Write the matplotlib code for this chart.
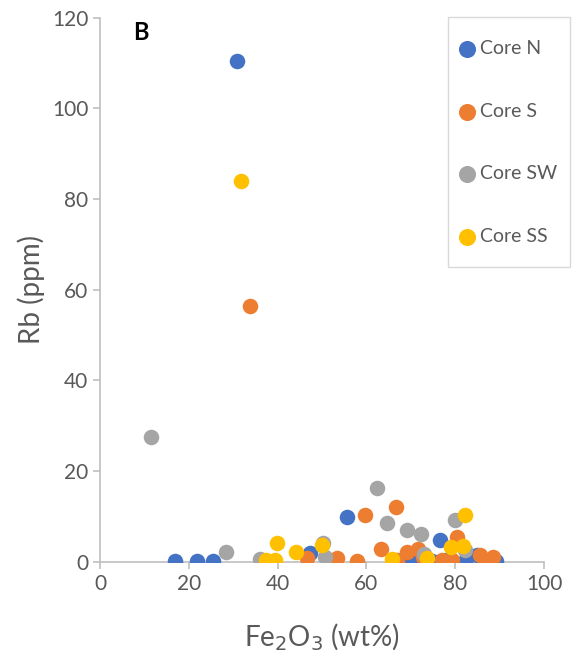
import numpy as np
import matplotlib.pyplot as plt
from matplotlib.patches import Rectangle

plt.rcParams['font.family'] = ['Lato', 'DejaVu Sans']

# Fe2O3 (wt%) and Rb (ppm) per core
n_fe = [30.9, 16.9, 21.8, 25.5, 55.6, 47.3, 51.8, 70.2, 76.6, 74.7, 78.0, 82.2, 84.8, 89.3]
n_rb = [110.4, 0.2, 0.2, 0.2, 9.9, 1.9, 0.2, 0.4, 4.8, 0.1, 0.4, 0.1, 1.5, 0.1]

s_fe = [33.8, 46.6, 53.3, 57.8, 59.7, 63.4, 66.6, 66.8, 69.1, 71.6, 72.7, 77.0, 79.2, 80.3, 85.6, 86.7, 88.6]
s_rb = [56.4, 0.8, 0.8, 0.1, 10.3, 2.7, 12.0, 0.4, 2.2, 2.8, 1.1, 0.4, 0.4, 5.5, 1.5, 0.4, 1.1]

sw_fe = [11.5, 28.4, 36.0, 50.3, 50.7, 62.5, 64.6, 69.2, 72.2, 73.0, 80.0, 82.2]
sw_rb = [27.5, 2.1, 0.5, 4.1, 1.1, 16.2, 8.5, 7.1, 6.1, 1.8, 9.2, 2.6]

ss_fe = [31.8, 39.8, 37.5, 39.4, 44.1, 49.9, 65.7, 73.6, 79.0, 81.7, 82.1]
ss_rb = [84.0, 4.2, 0.4, 0.4, 2.1, 3.7, 0.5, 0.8, 3.3, 3.5, 10.3]

W, H = 573, 665
fig = plt.figure(figsize=(W / 100, H / 100), dpi=100)
ax = fig.add_axes([0.1745, 0.1553, 0.7749, 0.818])

ms = 125
ax.scatter(n_fe, n_rb, s=ms, color='#4472C4', label='Core N', zorder=3, linewidths=0)
ax.scatter(s_fe, s_rb, s=ms, color='#ED7D31', label='Core S', zorder=3, linewidths=0)
ax.scatter(sw_fe, sw_rb, s=ms, color='#A5A5A5', label='Core SW', zorder=3, linewidths=0)
ax.scatter(ss_fe, ss_rb, s=ms, color='#FFC000', label='Core SS', zorder=3, linewidths=0)

ax.set_xlim(0, 100)
ax.set_ylim(0, 120)
ax.set_xticks(np.arange(0, 101, 20))
ax.set_yticks(np.arange(0, 121, 20))
for side in ['top', 'right']:
    ax.spines[side].set_visible(False)
for side in ['left', 'bottom']:
    ax.spines[side].set_color('#BFBFBF')
    ax.spines[side].set_linewidth(1.2)
ax.tick_params(colors='#BFBFBF', labelcolor='#595959', labelsize=15, length=5, width=1.2)

ax.set_xlabel('Fe$_2$O$_3$ (wt%)', fontsize=20, color='#595959', labelpad=20)
ax.set_ylabel('Rb (ppm)', fontsize=20, color='#595959', labelpad=5)
ax.text(0.075, 0.972, 'B', transform=ax.transAxes, fontsize=17, fontweight='bold',
        va='center', ha='left')

# legend frame drawn separately so the padding can match
fig.patches.append(Rectangle((448 / W, 1 - 267 / H), 122 / W, 250.3 / H,
                             transform=fig.transFigure, facecolor='white',
                             edgecolor='#D9D9D9', linewidth=1.0, zorder=4))
leg = fig.legend(loc='upper left', bbox_to_anchor=(459 / W, 1 - 40 / H),
                 fontsize=14, labelspacing=2.35, handletextpad=0.3, handlelength=0.8,
                 borderpad=0, frameon=False, labelcolor='#595959',
                 borderaxespad=0, markerscale=1.1)
leg.set_zorder(5)

fig.savefig('out.png', dpi=100)
